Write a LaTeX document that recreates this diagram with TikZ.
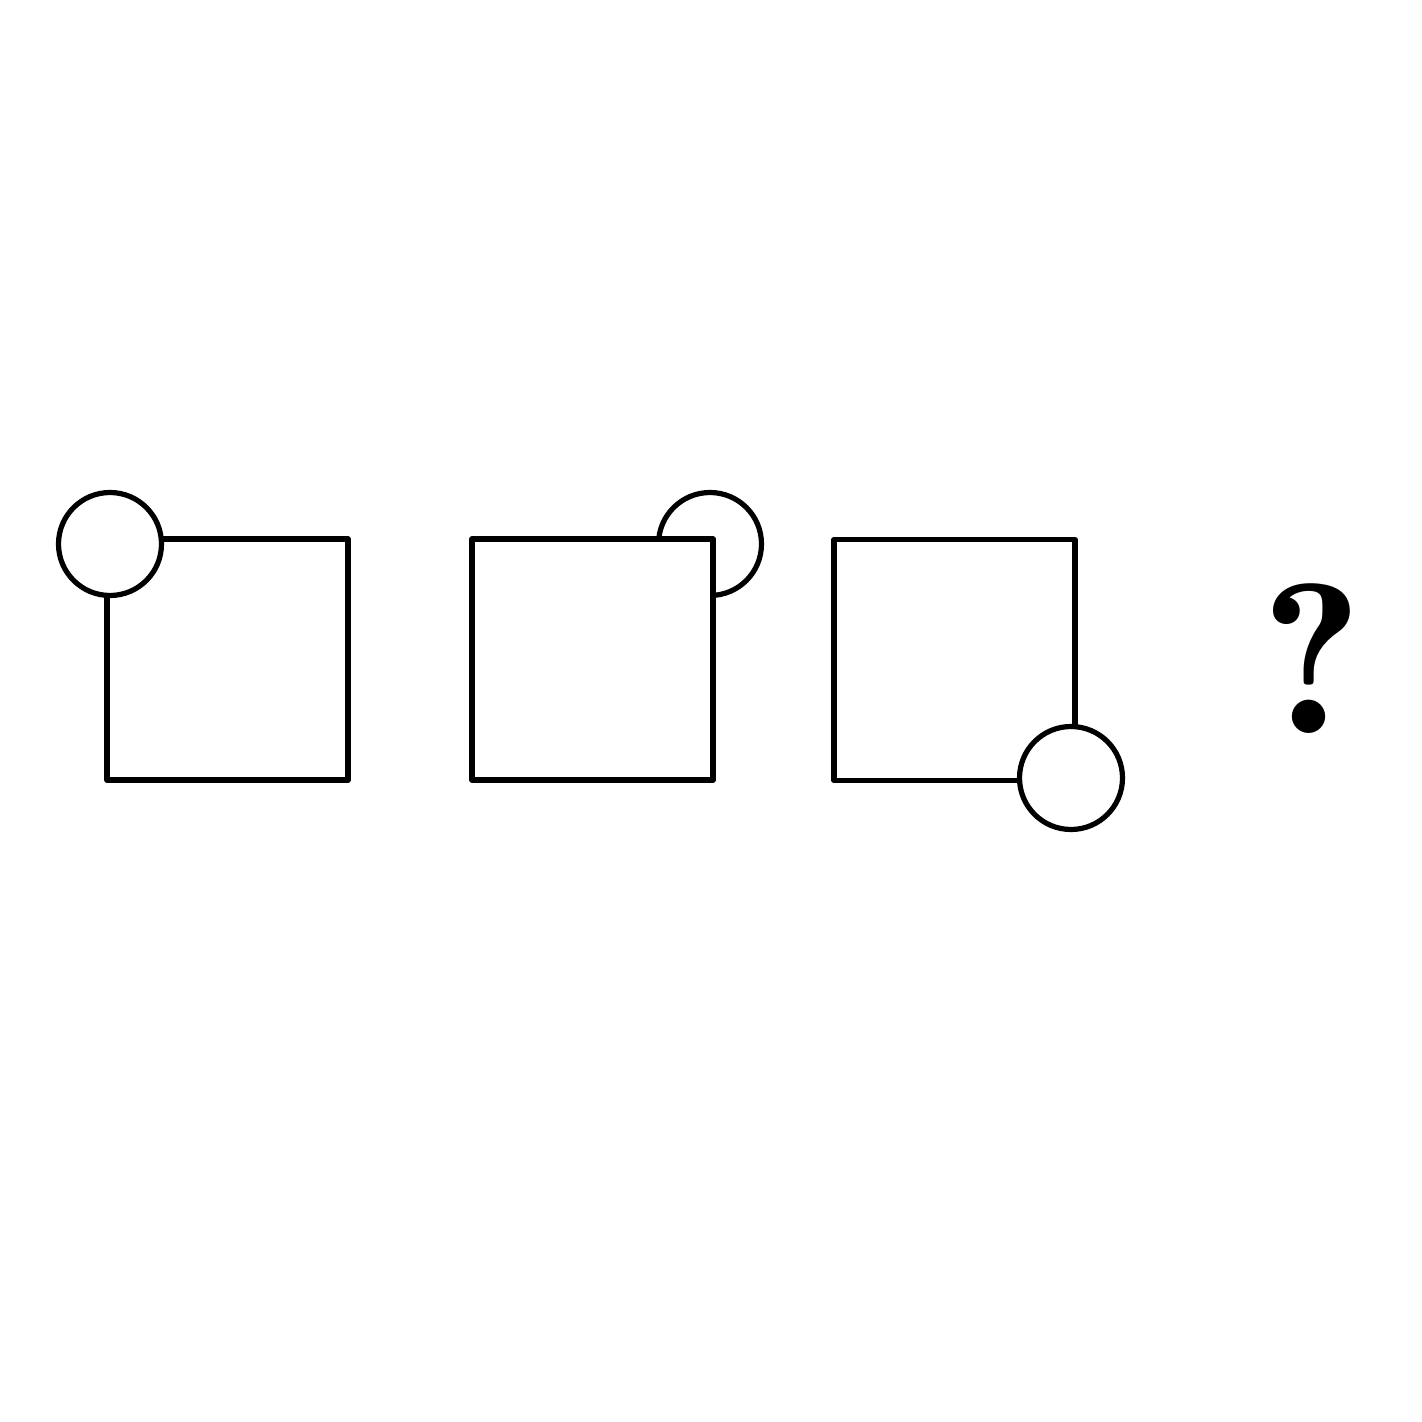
\documentclass[tikz,border=0pt]{standalone}
\usepackage{fontspec}
\newfontfamily\demifont{Latin Modern Roman Demi}
\begin{document}
\begin{tikzpicture}[x=0.5pt,y=-0.5pt,
  sq/.style={draw=black,fill=white,line width=2.6pt,rectangle,minimum size=120.5pt,inner sep=0pt,line join=round},
  ring/.style={draw=black,fill=white,line width=2.6pt,circle,minimum size=51.5pt,inner sep=0pt}]
\useasboundingbox[fill=white] (0,0) rectangle (1422,1422);
% figure 1: circle over square
\node[sq] (s1) at (227.5,659.5) {};
\node[ring] (c1) at (110,544) {};
% figure 2: square over circle
\node[ring] (c2) at (710,544) {};
\node[sq] (s2) at (592.5,659.5) {};
% figure 3: circle over square
\node[sq] (s3) at (954.5,660) {};
\node[ring] (c3) at (1071,778) {};
% question mark
\node[anchor=base,inner sep=0pt,font=\demifont\fontsize{107pt}{107pt}\selectfont] (q) at (1312,733) {?};
\end{tikzpicture}
\end{document}
